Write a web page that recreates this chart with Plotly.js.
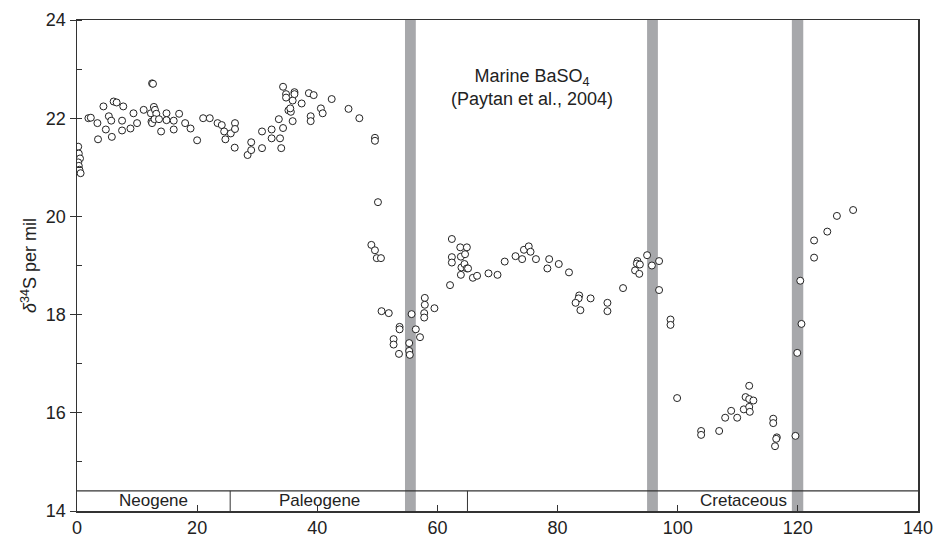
<!DOCTYPE html>
<html>
<head>
<meta charset="utf-8">
<script src="https://cdn.plot.ly/plotly-3.0.1.min.js"></script>
<style>html,body{margin:0;padding:0;background:#fff;}#chart{width:938px;height:538px;}</style>
</head>
<body>
<div id="chart"></div>
<script>
// Age (Ma) and marine barite d34S (per mil)
const ageMa = [
 0.2,0.3,0.5,0.2,0.3,0.4,0.6,
 1.9,2.3,3.4,3.5,4.4,4.8,5.3,5.7,5.8,6.1,6.6,7.5,7.5,7.7,8.9,9.4,10.0,11.1,
 12.3,12.4,12.5,12.5,12.65,12.8,12.98,13.2,12.9,13.65,14.0,14.9,14.9,16.1,16.1,17.0,18.0,18.9,20.0,
 21.0,22.1,23.4,24.1,24.5,24.7,25.6,26.3,26.3,26.25,
 28.4,29.0,29.0,30.8,30.8,32.4,32.4,33.6,33.8,34.0,34.3,34.3,34.8,34.8,35.9,36.2,36.2,
 35.2,35.6,35.5,35.9,37.4,38.6,39.4,38.9,38.9,40.6,40.9,42.4,45.2,47.0,49.6,49.6,
 50.1,49.0,49.6,49.9,50.6,50.7,51.9,53.7,53.7,52.7,52.7,53.6,55.3,55.3,55.4,55.7,56.4,57.1,
 57.9,57.9,57.8,57.8,59.5,62.1,62.4,62.4,62.4,63.8,64.9,63.9,64.6,64.0,64.5,64.9,63.9,
 65.1,65.9,66.6,68.5,70.0,71.2,73.0,74.1,74.4,75.2,75.5,76.4,78.3,78.6,80.2,81.9,
 83.6,83.5,83.0,83.8,85.5,88.3,88.3,90.9,93.3,93.2,93.7,92.9,93.6,94.9,95.7,96.9,96.9,
 98.8,98.8,99.9,103.9,103.9,106.9,107.9,108.9,109.9,111.0,111.3,111.9,112.6,111.9,111.9,112.0,
 115.9,115.9,116.5,116.4,116.2,119.6,119.9,120.6,120.4,122.7,122.7,124.9,126.5,129.2
];
const d34S = [
 21.42,21.28,21.18,21.10,21.03,20.95,20.88,
 22.00,22.01,21.90,21.57,22.24,21.77,22.04,21.95,21.62,22.34,22.32,21.95,21.75,22.24,21.79,22.10,21.90,22.17,
 22.10,21.93,21.90,22.71,22.70,22.23,22.17,22.09,21.98,21.98,21.73,22.10,21.96,21.95,21.77,22.09,21.90,21.79,21.55,
 22.00,22.00,21.90,21.86,21.73,21.57,21.69,21.90,21.78,21.40,
 21.25,21.51,21.35,21.73,21.39,21.77,21.59,21.98,21.59,21.39,21.80,22.64,22.49,22.42,22.36,22.53,22.49,
 22.16,22.13,22.20,21.94,22.30,22.51,22.47,22.04,21.94,22.20,22.10,22.39,22.19,22.00,21.60,21.54,
 20.29,19.42,19.31,19.15,19.15,18.07,18.03,17.75,17.70,17.50,17.39,17.20,17.42,17.26,17.18,18.01,17.70,17.54,
 18.34,18.20,18.03,17.94,18.13,18.60,19.54,19.17,19.06,19.37,19.37,19.18,19.23,18.96,19.03,18.94,18.81,
 18.94,18.75,18.79,18.84,18.81,19.08,19.19,19.13,19.32,19.39,19.28,19.13,18.94,19.13,19.03,18.86,
 18.39,18.33,18.24,18.09,18.33,18.24,18.07,18.54,19.09,19.04,19.02,18.90,18.83,19.21,19.00,19.09,18.50,
 17.90,17.79,16.30,15.63,15.55,15.63,15.90,16.04,15.90,16.07,16.32,16.28,16.25,16.55,16.12,16.02,
 15.88,15.79,15.50,15.47,15.32,15.53,17.22,17.81,18.69,19.51,19.16,19.69,20.01,20.13
];
// Event bars (Ma)
const eventStart = [54.6, 94.9, 119.0];
const eventEnd   = [56.4, 96.7, 120.9];
// Geologic periods
const periodNames  = ['Neogene', 'Paleogene', 'Cretaceous'];
const periodLabelX = [12.7, 40.4, 110.9];
const periodBounds = [25.5, 65];
const bandTop = 14.41;
const xTicks = [0, 20, 40, 60, 80, 100, 120, 140];
const yTicks = [14, 16, 18, 20, 22, 24];

const FONT = 'Liberation Sans, Arial, sans-serif';
const shapes = [];
for (let i = 0; i < eventStart.length; i++) {
  shapes.push({type:'rect', xref:'x', yref:'paper', x0:eventStart[i], x1:eventEnd[i], y0:0, y1:1,
    fillcolor:'#a7a8ab', line:{width:0}, layer:'below'});
}
shapes.push({type:'line', xref:'x', yref:'y', x0:0, x1:140, y0:bandTop, y1:bandTop,
  line:{color:'#333', width:1.2}, layer:'above'});
periodBounds.forEach(b => shapes.push({type:'line', xref:'x', yref:'y', x0:b, x1:b, y0:14, y1:bandTop,
  line:{color:'#333', width:1}, layer:'above'}));

const annotations = periodNames.map((n, i) => ({
  x: periodLabelX[i], y: (14 + bandTop) / 2, xref:'x', yref:'y', text:n, showarrow:false,
  font:{family:FONT, size:17, color:'#222'}
}));
annotations.push({x:75.7, y:22.62, xref:'x', yref:'y', showarrow:false,
  text:'Marine BaSO<sub>4</sub><br>(Paytan et al., 2004)',
  font:{family:FONT, size:18, color:'#222'}, align:'center'});

const trace = {
  x: ageMa, y: d34S, type:'scatter', mode:'markers',
  marker:{symbol:'circle', size:7, color:'#fff', line:{color:'#222', width:1}},
  hoverinfo:'x+y', showlegend:false
};

const layout = {
  width:938, height:538,
  margin:{l:77, r:20, t:20, b:27, pad:0},
  paper_bgcolor:'#fff', plot_bgcolor:'#fff',
  font:{family:FONT, size:18, color:'#222'},
  xaxis:{range:[0,140], tickvals:xTicks, ticks:'inside', ticklen:6, tickcolor:'#333',
    showline:true, linecolor:'#333', linewidth:1.5, mirror:true, showgrid:false, zeroline:false,
    tickfont:{family:FONT, size:18, color:'#222'}},
  yaxis:{range:[14,24], tickvals:yTicks, ticks:'outside', ticklen:6, tickcolor:'#333',
    minor:{dtick:1, ticks:'inside', ticklen:5, tickcolor:'#333', showgrid:false},
    showline:true, linecolor:'#333', linewidth:1.5, mirror:true, showgrid:false, zeroline:false,
    tickfont:{family:FONT, size:18, color:'#222'},
    title:{text:'<i>δ</i><sup>34</sup>S per mil', font:{family:FONT, size:18, color:'#222'}, standoff:4}},
  shapes: shapes,
  annotations: annotations
};

Plotly.newPlot('chart', [trace], layout, {displayModeBar:false, staticPlot:true});
</script>
</body>
</html>
